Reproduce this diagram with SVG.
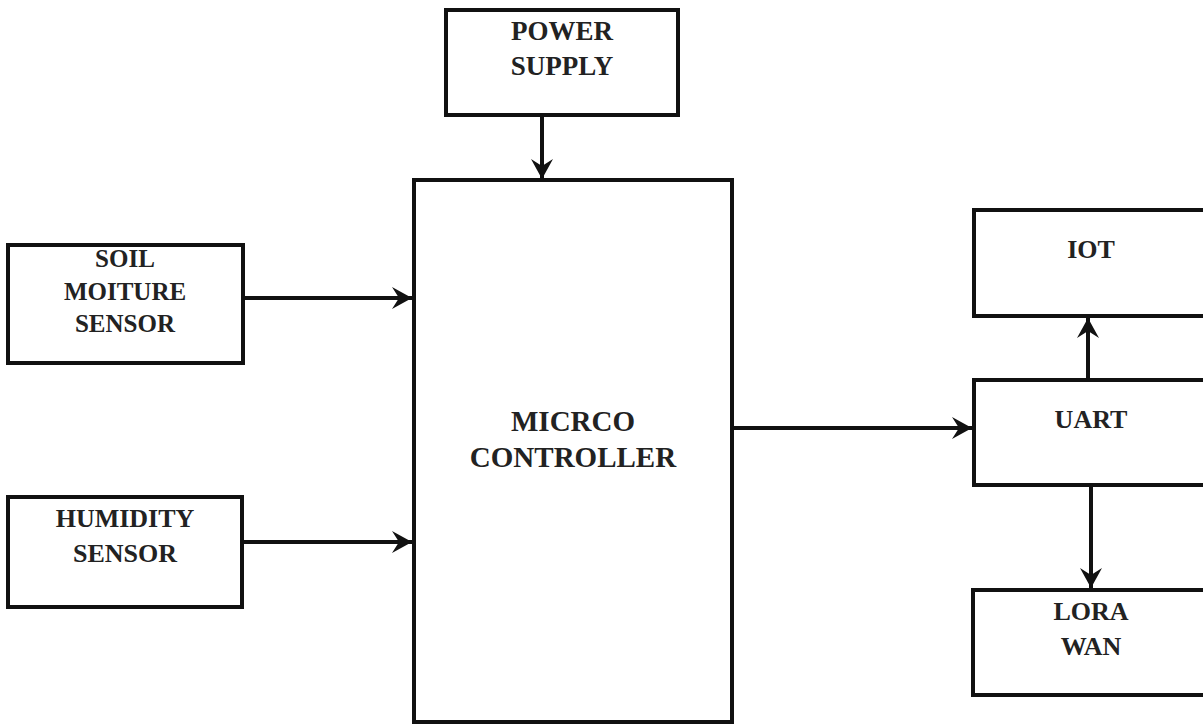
<svg xmlns="http://www.w3.org/2000/svg" width="1203" height="724" viewBox="0 0 1203 724">
<style>
.box{fill:#fff;stroke:#111;stroke-width:4}
.lbl{font-family:"Liberation Serif","Times New Roman",serif;font-weight:bold;fill:#222;text-anchor:middle}
.conn{stroke:#111;stroke-width:4;fill:none}
</style>
<defs>
<marker id="ah" markerUnits="userSpaceOnUse" markerWidth="26" markerHeight="26" viewBox="-22 -13 24 26" refX="0" refY="0" orient="auto">
<path d="M0,0 L-20,-11 L-13,0 L-20,11 Z" fill="#111"/>
</marker>
</defs>
<rect width="1203" height="724" fill="#fff"/>
<g id="power">
<rect class="box" x="446" y="10" width="232" height="105"/>
<text class="lbl" x="562" y="40" font-size="27">POWER</text>
<text class="lbl" x="562" y="75" font-size="27">SUPPLY</text>
</g>
<g id="micro">
<rect class="box" x="414" y="180" width="318" height="542"/>
<text class="lbl" x="573" y="431" font-size="29">MICRCO</text>
<text class="lbl" x="573" y="467" font-size="29">CONTROLLER</text>
</g>
<g id="soil">
<rect class="box" x="8" y="245" width="235" height="118"/>
<text class="lbl" x="125" y="267" font-size="25">SOIL</text>
<text class="lbl" x="125" y="300" font-size="25">MOITURE</text>
<text class="lbl" x="125" y="332" font-size="25">SENSOR</text>
</g>
<g id="humidity">
<rect class="box" x="8" y="497" width="234" height="110"/>
<text class="lbl" x="125" y="527" font-size="26">HUMIDITY</text>
<text class="lbl" x="125" y="562" font-size="26">SENSOR</text>
</g>
<g id="iot">
<rect class="box" x="974" y="210" width="240" height="106"/>
<text class="lbl" x="1091" y="258" font-size="26">IOT</text>
</g>
<g id="uart">
<rect class="box" x="974" y="380" width="240" height="105"/>
<text class="lbl" x="1091" y="428" font-size="26">UART</text>
</g>
<g id="lora">
<rect class="box" x="973" y="590" width="240" height="105"/>
<text class="lbl" x="1091" y="620" font-size="26">LORA</text>
<text class="lbl" x="1091" y="655" font-size="26">WAN</text>
</g>
<g id="connectors">
<line class="conn" x1="542" y1="115" x2="542" y2="179" marker-end="url(#ah)"/>
<line class="conn" x1="243" y1="298" x2="412" y2="298" marker-end="url(#ah)"/>
<line class="conn" x1="242" y1="542" x2="412" y2="542" marker-end="url(#ah)"/>
<line class="conn" x1="732" y1="428" x2="972" y2="428" marker-end="url(#ah)"/>
<line class="conn" x1="1088" y1="380" x2="1088" y2="318" marker-end="url(#ah)"/>
<line class="conn" x1="1091" y1="485" x2="1091" y2="588" marker-end="url(#ah)"/>
</g>
</svg>
